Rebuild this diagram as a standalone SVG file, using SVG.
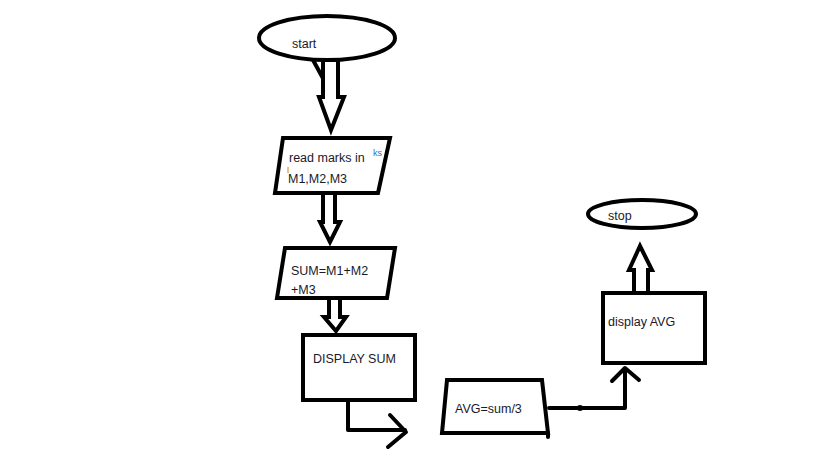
<svg xmlns="http://www.w3.org/2000/svg" width="819" height="460" viewBox="0 0 819 460">
<style>
.s{fill:#fff;stroke:#000;stroke-width:4;stroke-linejoin:miter}
.l{fill:none;stroke:#000;stroke-width:4;stroke-linecap:round;stroke-linejoin:round}
.t{font-family:"Liberation Sans","Open Sans",sans-serif;font-size:12.5px;fill:#1a1a2a}
</style>
<rect width="819" height="460" fill="#fff"/>
<g id="connectors">
<path class="l" d="M313,60 L325,82"/>
<path class="s" d="M323,60 L338,60 L338,97 L344,97 L331,130 L319,97 L323,97 Z"/>
<path class="s" d="M323,193 L335,193 L335,222 L340,222 L330,242 L320,222 L323,222 Z"/>
<path class="s" d="M329,298 L340,298 L340,317 L346,317 L336,331 L324,317 L329,317 Z"/>
<path class="l" d="M348,400 L348,430 L405,430"/>
<path class="l" d="M390,415 L406,432 L388,447"/>
<path class="l" d="M549,408 L625,408 L625,370"/>
<path class="l" d="M612,381 L625,368 L639,380"/>
<circle cx="580" cy="408" r="3" fill="#000"/>
<path class="s" d="M634,293 L648,293 L648,270 L652,270 L640,246 L629,270 L634,270 Z"/>
</g>
<g id="start">
<ellipse class="s" cx="327" cy="38" rx="68" ry="22"/>
<text class="t" x="292" y="48">start</text>
</g>
<g id="read">
<polygon class="s" points="283,138 390,138 378,193 275,193"/>
<text class="t" x="289" y="162">read marks in</text>
<text x="373" y="156" style="font-family:'Liberation Sans',sans-serif;font-size:9px;fill:#2a6fd6">ks</text>
<text class="t" x="288" y="183">M1,M2,M3</text>
<line x1="288" y1="167" x2="288" y2="173" stroke="#e07a10" stroke-width="1"/>
</g>
<g id="sum">
<polygon class="s" points="285,248 395,248 387,298 277,298"/>
<text class="t" x="291" y="275">SUM=M1+M2</text>
<text class="t" x="291" y="294">+M3</text>
</g>
<g id="displaysum">
<rect class="s" x="303" y="335" width="112" height="65"/>
<text class="t" x="313" y="363">DISPLAY SUM</text>
</g>
<g id="avg">
<polygon class="s" points="447,380 542,380 548,433 442,433"/>
<path class="l" d="M548,433 L548,437"/>
<text class="t" x="455" y="413">AVG=sum/3</text>
</g>
<g id="displayavg">
<rect class="s" x="603" y="293" width="102" height="70"/>
<text class="t" x="608" y="326">display AVG</text>
</g>
<g id="stop">
<ellipse class="s" cx="642" cy="214" rx="54" ry="14"/>
<text class="t" x="608" y="220">stop</text>
</g>
</svg>
